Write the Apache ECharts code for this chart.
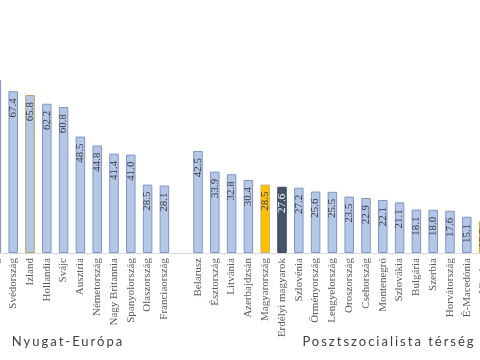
<!DOCTYPE html>
<html>
<head>
<meta charset="utf-8">
<script src="https://cdn.jsdelivr.net/npm/echarts@6/dist/echarts.min.js"></script>
<style>html,body{margin:0;padding:0;background:#fff;overflow:hidden;width:480px;height:360px}#c{position:absolute;left:-12px;top:0;width:504px;height:360px}</style>
</head>
<body>
<div id="c"></div>
<script>
const categories = ['Finnország','Svédország','Izland','Hollandia','Svájc','Ausztria','Németország','Nagy Britannia','Spanyolország','Olaszország','Franciaország','','Belarusz','Észtország','Litvánia','Azerbajdzsán','Magyarország','Erdélyi magyarok','Szlovénia','Örményország','Lengyelország','Oroszország','Csehország','Montenegró','Szlovákia','Bulgária','Szerbia','Horvátország','É-Macedónia','Ukrajna'];
const values = [72.1,67.4,65.8,62.2,60.8,48.5,44.8,41.4,41.0,28.5,28.1,null,42.5,33.9,32.8,30.4,28.5,27.6,27.2,25.6,25.5,23.5,22.9,22.1,21.1,18.1,18.0,17.6,15.1,13.2];
const groupLabels = ['Nyugat-Európa','Posztszocialista térség'];

// letter spacing for the group captions (Lato only)
(function(){
  const P = CanvasRenderingContext2D.prototype;
  const orig = P.fillText;
  P.fillText = function(t,x,y,m){
    if ('letterSpacing' in this) this.letterSpacing = this.font.indexOf('Lato') >= 0 ? '2px' : '0px';
    return m === undefined ? orig.call(this,t,x,y) : orig.call(this,t,x,y,m);
  };
})();

const special = {
  'Izland': {borderColor:'#b59f5e'},
  'Magyarország': {color:'#ffc000', borderColor:'#c8b27a'},
  'Erdélyi magyarok': {color:'#44546a', borderColor:'#3b4a5e'},
  'Ukrajna': {borderColor:'#d4a520'}
};

const data = values.map((v,i) => {
  const s = special[categories[i]];
  const item = {value: v};
  if (s) item.itemStyle = s;
  if (categories[i] === 'Erdélyi magyarok') item.label = {color:'#ffffff'};
  return item;
});

const chart = echarts.init(document.getElementById('c'), null, {renderer:'canvas'});
chart.setOption({
  animation:false,
  grid:{left:0, right:0, top:13, bottom:107},
  xAxis:{
    type:'category', data:categories, boundaryGap:true,
    axisLine:{lineStyle:{color:'#d9d9d9', width:1}},
    axisTick:{show:false},
    axisLabel:{interval:0, rotate:90, margin:5, color:'#595959', fontFamily:'Liberation Serif', fontSize:11, hideOverlap:false}
  },
  yAxis:{type:'value', min:0, max:100, show:false, splitLine:{show:false}},
  series:[{
    type:'bar', data:data, barWidth:9.5,
    itemStyle:{color:'#b4c7e7', borderColor:'#7f96c0', borderWidth:1},
    label:{show:true, position:'insideTop', distance:7, rotate:90, align:'right', verticalAlign:'middle',
      fontFamily:'Liberation Serif', fontSize:11, color:'#3a3a3a',
      formatter: p => (p.value == null ? '' : p.value.toFixed(1))}
  }],
  graphic:[
    {type:'text', x:80, y:342, style:{text:groupLabels[0], fill:'#404040', font:'13px Lato', textAlign:'center', textVerticalAlign:'middle'}},
    {type:'text', x:401, y:342, style:{text:groupLabels[1], fill:'#404040', font:'13px Lato', textAlign:'center', textVerticalAlign:'middle'}}
  ]
});
</script>
</body>
</html>
